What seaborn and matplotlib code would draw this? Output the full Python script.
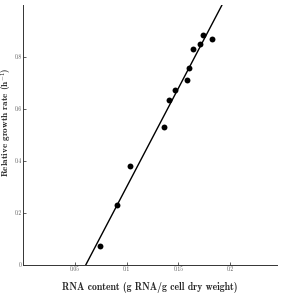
import numpy as np
import pandas as pd
import matplotlib
matplotlib.use("Agg")
import matplotlib.pyplot as plt
import seaborn as sns

# Data
rna_content = [0.0742, 0.0907, 0.1033, 0.1362, 0.1410, 0.1469,
               0.1585, 0.1604, 0.1643, 0.1710, 0.1739, 0.1827]
growth_rate = [0.073, 0.231, 0.381, 0.531, 0.635, 0.673,
               0.712, 0.758, 0.831, 0.850, 0.885, 0.869]
fit_slope = 7.58
fit_intercept = -0.458
x_ticks = [0.05, 0.1, 0.15, 0.2]
x_tick_labels = ["0.05", "0.1", "0.15", "0.2"]
y_ticks = [0, 0.2, 0.4, 0.6, 0.8]
y_tick_labels = ["0", "0.2", "0.4", "0.6", "0.8"]

sns.set_style("ticks")
plt.rcParams["font.family"] = ["cmr10", "DejaVu Serif"]
plt.rcParams["mathtext.fontset"] = "cm"
plt.rcParams["axes.unicode_minus"] = False

fig = plt.figure(figsize=(2.86, 2.93), dpi=100)
ax = fig.add_axes([23.3 / 286, 28 / 293, (277 - 23.3) / 286, 260 / 293])

df = pd.DataFrame({"x": rna_content, "y": growth_rate})
# fitted line spanning y from 0 to 1
x0 = (0 - fit_intercept) / fit_slope
x1 = (1 - fit_intercept) / fit_slope
line_x = np.array([x0, x1])
line_df = pd.DataFrame({"x": line_x, "y": fit_slope * line_x + fit_intercept})
sns.lineplot(data=line_df, x="x", y="y", ax=ax, color="black", lw=1.0)
sns.scatterplot(data=df, x="x", y="y", ax=ax, color="black", s=18,
                edgecolor="black", linewidth=0, zorder=3)

ax.set_xlim(0, 0.2456)
ax.set_ylim(0, 1.0)
ax.set_xticks(x_ticks)
ax.set_xticklabels(x_tick_labels)
ax.set_yticks(y_ticks)
ax.set_yticklabels(y_tick_labels)
ax.tick_params(direction="in", length=2.5, width=0.6, labelsize=4, pad=1.2,
               colors="#444444", labelcolor="#555555")
for s in ["top", "right"]:
    ax.spines[s].set_visible(False)
for s in ["left", "bottom"]:
    ax.spines[s].set_linewidth(0.7)
    ax.spines[s].set_color("#333333")

ax.set_xlabel("RNA content (g RNA/g cell dry weight)", fontfamily="cmb10",
              fontsize=7)
ax.xaxis.set_label_coords(0.5, -0.065)
ax.set_ylabel(r"Relative growth rate (h$^{-1}$)", fontfamily="cmb10",
              fontsize=6.6)
ax.yaxis.set_label_coords(-0.036, 0.55)

fig.savefig("out.png", dpi=100, facecolor="white")
